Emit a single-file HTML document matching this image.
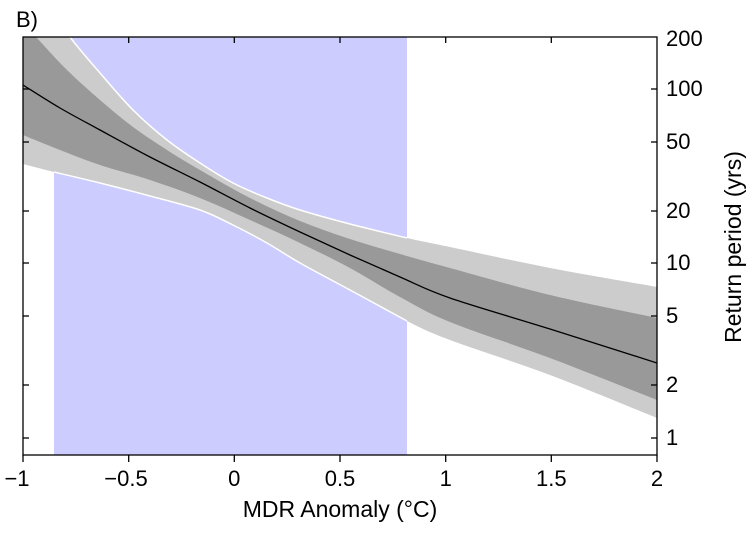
<!DOCTYPE html>
<html><head><meta charset="utf-8"><style>body{margin:0;background:#fff}</style></head><body>
<svg id="s" width="754" height="531" viewBox="0 0 754 531" xmlns="http://www.w3.org/2000/svg" font-family="Liberation Sans, sans-serif">
<defs><clipPath id="c"><rect x="23" y="37" width="634" height="418"/></clipPath></defs>
<g clip-path="url(#c)">
<rect x="54" y="37" width="353" height="418" fill="#ccccff"/>
<path id="lb" fill="#cccccc"/>
<path id="lu" fill="none" stroke="#fff" stroke-width="1.5"/>
<path id="ll" fill="none" stroke="#fff" stroke-width="1.5"/>
<path id="db" fill="#999999"/>
<path id="md" fill="none" stroke="#000" stroke-width="1.3"/>
</g>
<rect x="23" y="37" width="634" height="418" fill="none" stroke="#000" stroke-width="1.3"/>
<g stroke="#000" stroke-width="1.3">
<line x1="23" y1="455" x2="23" y2="462"/><line x1="128.7" y1="455" x2="128.7" y2="462"/><line x1="234.3" y1="455" x2="234.3" y2="462"/><line x1="340" y1="455" x2="340" y2="462"/><line x1="445.7" y1="455" x2="445.7" y2="462"/><line x1="551.3" y1="455" x2="551.3" y2="462"/><line x1="657" y1="455" x2="657" y2="462"/>
<line x1="128.7" y1="37" x2="128.7" y2="43"/><line x1="234.3" y1="37" x2="234.3" y2="43"/><line x1="340" y1="37" x2="340" y2="43"/><line x1="445.7" y1="37" x2="445.7" y2="43"/><line x1="551.3" y1="37" x2="551.3" y2="43"/>
<line x1="657" y1="438" x2="651" y2="438"/><line x1="657" y1="385" x2="651" y2="385"/><line x1="657" y1="316" x2="651" y2="316"/><line x1="657" y1="263" x2="651" y2="263"/><line x1="657" y1="211" x2="651" y2="211"/><line x1="657" y1="142" x2="651" y2="142"/><line x1="657" y1="89" x2="651" y2="89"/>
<line x1="23" y1="438" x2="29" y2="438"/><line x1="23" y1="385" x2="29" y2="385"/><line x1="23" y1="316" x2="29" y2="316"/><line x1="23" y1="263" x2="29" y2="263"/><line x1="23" y1="211" x2="29" y2="211"/><line x1="23" y1="142" x2="29" y2="142"/><line x1="23" y1="89" x2="29" y2="89"/>
</g>
<g font-size="22" fill="#000" text-anchor="middle">
<text x="17" y="486">−1</text><text x="126" y="486">−0.5</text><text x="234.3" y="486">0</text><text x="340" y="486">0.5</text><text x="445.7" y="486">1</text><text x="551.3" y="486">1.5</text><text x="657" y="486">2</text>
<text x="340" y="517" font-size="23">MDR Anomaly (°C)</text>
</g>
<g font-size="22" fill="#000">
<text x="666" y="445">1</text><text x="666" y="392">2</text><text x="666" y="323">5</text><text x="666" y="270">10</text><text x="666" y="218">20</text><text x="666" y="149">50</text><text x="666" y="96">100</text><text x="666" y="46">200</text>
<text x="16" y="27" font-size="22">B)</text>
<text transform="translate(741,247) rotate(-90)" text-anchor="middle" font-size="23">Return period (yrs)</text>
</g>
</svg>
<script>
function cr(p){let d="";for(let i=0;i<p.length-1;i++){const a=p[i-1]||p[i],b=p[i],c=p[i+1],e=p[i+2]||c;
const c1=[b[0]+(c[0]-a[0])/6,b[1]+(c[1]-a[1])/6],c2=[c[0]-(e[0]-b[0])/6,c[1]-(e[1]-b[1])/6];
d+=(i?"":"M"+b[0]+","+b[1])+" C"+c1+" "+c2+" "+c;}return d;}
const LU=[[23,-30],[45,0],[70,37],[100,73],[133,110],[167,140],[200,163],[233,183],[267,198],[300,210],[350,224],[407,238],[450,247],[550,268],[657,287]];
const LL=[[23,164],[54,172],[100,183],[150,196],[200,210],[233,225],[267,243],[300,263],[350,290],[407,321],[450,340],[550,375],[657,418]];
const DU=[[23,22],[37,38],[67,70],[100,100],[133,127],[167,150],[200,170],[250,198],[300,221],[350,239],[400,254],[450,268],[550,295],[657,318]];
const DL=[[23,135],[60,150],[100,165],[150,180],[200,198],[250,220],[300,243],[350,268],[400,297],[450,322],[550,358],[657,400]];
const MD=[[23,85],[60,108],[100,130],[150,157],[200,182],[250,208],[300,232],[350,255],[400,277],[450,298],[550,329],[657,363]];
function band(u,l){const r=l.slice().reverse();return cr(u)+" L"+r[0]+cr(r).replace(/^M[^ ]*/,"")+" Z";}
document.getElementById("lb").setAttribute("d",band(LU,LL));
document.getElementById("db").setAttribute("d",band(DU,DL));
document.getElementById("md").setAttribute("d",cr(MD));
document.getElementById("lu").setAttribute("d",cr(LU.slice(1,12)));
document.getElementById("ll").setAttribute("d",cr(LL.slice(1,10)));
</script>
</body></html>
